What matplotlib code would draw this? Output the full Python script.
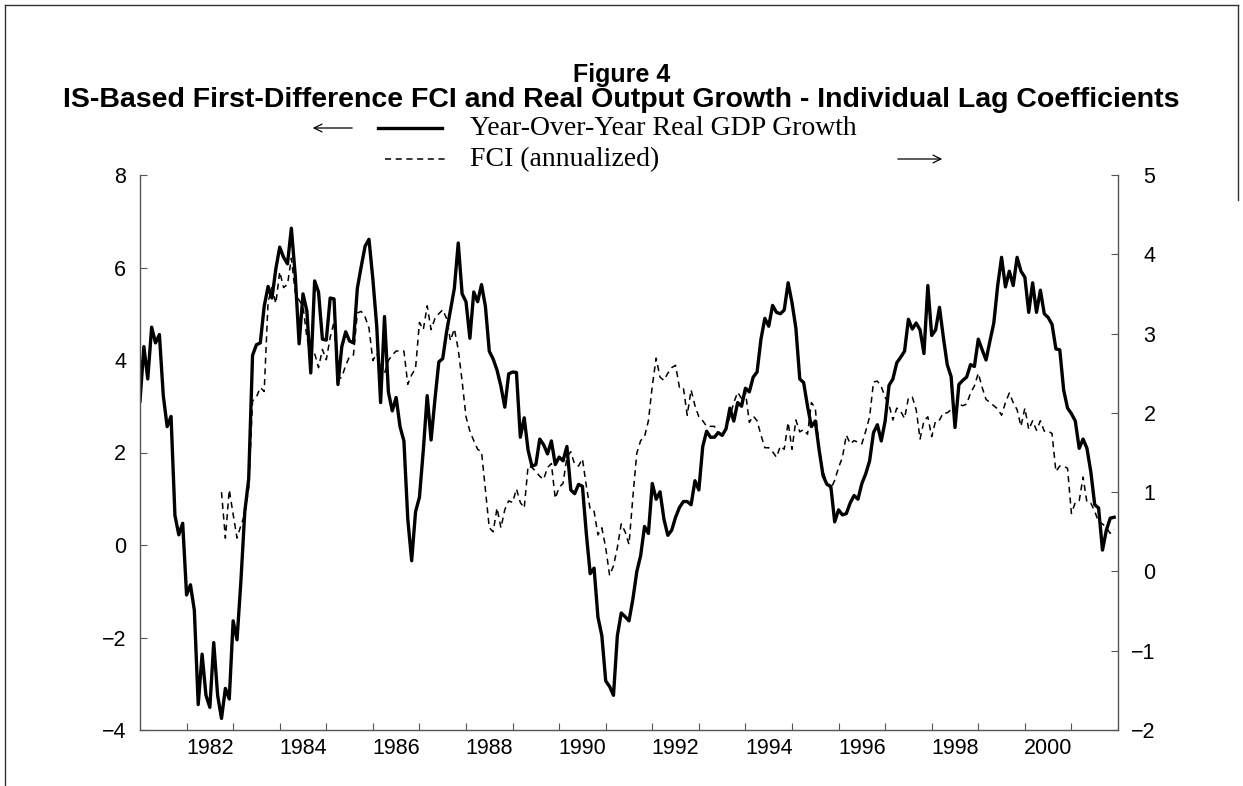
import numpy as np
import matplotlib.pyplot as plt
from matplotlib.lines import Line2D
from matplotlib.patches import FancyArrowPatch

# year-over-year real GDP growth, monthly from Jan 1981 (left axis)
gdp = [
    3.11, 4.29, 3.59, 4.71, 4.37, 4.55, 3.23, 2.56, 2.78, 0.64, 0.22, 0.47,
    -1.08, -0.86, -1.41, -3.45, -2.36, -3.25, -3.51, -2.11, -3.25, -3.75, -3.10, -3.33,
    -1.64, -2.05, -0.78, 0.72, 1.42, 4.10, 4.33, 4.37, 5.16, 5.59, 5.34, 5.97,
    6.44, 6.22, 6.08, 6.85, 5.83, 4.35, 5.43, 5.06, 3.72, 5.71, 5.47, 4.45,
    4.43, 5.34, 5.32, 3.47, 4.29, 4.61, 4.41, 4.37, 5.55, 6.02, 6.46, 6.61,
    5.75, 4.73, 3.08, 4.94, 3.31, 2.90, 3.19, 2.56, 2.25, 0.56, -0.34, 0.72,
    1.03, 2.05, 3.23, 2.27, 3.15, 3.96, 4.03, 4.61, 5.08, 5.55, 6.53, 5.43,
    5.26, 4.47, 5.47, 5.26, 5.63, 5.16, 4.19, 4.02, 3.78, 3.43, 2.98, 3.70,
    3.74, 3.73, 2.33, 2.75, 2.05, 1.70, 1.74, 2.29, 2.17, 1.97, 2.25, 1.74,
    1.90, 1.82, 2.13, 1.19, 1.11, 1.31, 1.27, 0.25, -0.62, -0.50, -1.56, -1.96,
    -2.94, -3.06, -3.25, -1.96, -1.47, -1.55, -1.64, -1.17, -0.58, -0.23, 0.40, 0.25,
    1.33, 0.99, 1.15, 0.56, 0.21, 0.32, 0.60, 0.81, 0.94, 0.94, 0.87, 1.39,
    1.19, 2.13, 2.46, 2.33, 2.33, 2.43, 2.37, 2.51, 2.96, 2.68, 3.08, 3.00,
    3.39, 3.31, 3.63, 3.74, 4.45, 4.90, 4.73, 5.18, 5.03, 5.00, 5.08, 5.67,
    5.24, 4.69, 3.59, 3.51, 3.00, 2.56, 2.68, 2.05, 1.50, 1.31, 1.27, 0.50,
    0.76, 0.65, 0.68, 0.91, 1.07, 0.99, 1.33, 1.54, 1.82, 2.43, 2.60, 2.25,
    2.68, 3.45, 3.59, 3.94, 4.06, 4.19, 4.88, 4.67, 4.80, 4.65, 4.14, 5.61,
    4.53, 4.65, 5.14, 4.49, 3.90, 3.64, 2.54, 3.47, 3.56, 3.63, 3.90, 3.86,
    4.45, 4.22, 4.00, 4.41, 4.80, 5.61, 6.22, 5.58, 5.92, 5.61, 6.22, 5.92,
    5.79, 5.03, 5.67, 5.03, 5.51, 5.00, 4.92, 4.77, 4.24, 4.22, 3.35, 2.96,
    2.84, 2.68, 2.09, 2.29, 2.09, 1.58, 0.87, 0.80, -0.11, 0.32, 0.58, 0.60,
]
gdp_start = 1981.0

# FCI (annualized), monthly from Oct 1982 (right axis)
fci = [
    1.00, 0.42, 1.03,
    0.72, 0.42, 0.58, 0.72, 1.05, 2.15, 2.20, 2.32, 2.27, 3.40, 3.58, 3.38,
    3.78, 3.58, 3.62, 3.95, 3.52, 3.42, 3.35, 2.95, 2.72, 2.75, 2.57, 2.80,
    2.67, 2.95, 3.15, 2.42, 2.45, 2.60, 2.71, 2.73, 3.26, 3.28, 3.21, 3.07,
    2.66, 2.75, 2.62, 2.50, 2.66, 2.73, 2.78, 2.78, 2.78, 2.36, 2.48, 2.56,
    3.14, 3.05, 3.35, 3.05, 3.19, 3.25, 3.30, 3.19, 2.91, 3.06, 2.80, 2.40,
    1.95, 1.77, 1.65, 1.54, 1.51, 1.03, 0.55, 0.50, 0.80, 0.55, 0.78, 0.89,
    0.87, 1.04, 0.87, 0.80, 1.33, 1.31, 1.26, 1.20, 1.16, 1.31, 1.36, 0.92,
    1.06, 1.11, 1.44, 1.51, 1.35, 1.33, 1.42, 1.08, 0.78, 0.76, 0.46, 0.55,
    0.30, -0.05, 0.07, 0.30, 0.60, 0.50, 0.34, 0.94, 1.49, 1.65, 1.70, 1.90,
    2.34, 2.69, 2.45, 2.41, 2.50, 2.57, 2.60, 2.32, 2.32, 1.97, 2.29, 2.09,
    1.95, 1.90, 1.83, 1.83, 1.83, 1.74, 1.72, 1.81, 1.95, 2.13, 2.26, 2.18,
    2.27, 1.88, 1.96, 1.90, 1.72, 1.56, 1.56, 1.51, 1.44, 1.58, 1.54, 1.88,
    1.54, 1.91, 1.76, 1.79, 1.73, 2.13, 2.06, 1.54, 1.26, 1.11, 1.04, 1.15,
    1.31, 1.44, 1.72, 1.61, 1.65, 1.63, 1.61, 1.77, 1.95, 2.39, 2.40, 2.33,
    2.20, 2.10, 1.91, 2.06, 2.02, 1.93, 2.19, 2.20, 2.04, 1.67, 1.90, 1.95,
    1.70, 1.90, 1.91, 2.00, 2.00, 2.04, 2.02, 2.11, 2.09, 2.11, 2.25, 2.34,
    2.50, 2.32, 2.17, 2.13, 2.09, 2.05, 1.97, 2.13, 2.25, 2.13, 2.04, 1.83,
    2.06, 1.79, 1.90, 1.78, 1.90, 1.77, 1.77, 1.74, 1.26, 1.33, 1.33, 1.30,
    0.73, 0.87, 0.89, 1.19, 0.87, 0.86, 0.76, 0.62, 0.60, 0.55, 0.48, 0.53,
]
fci_start = 1982.75

year_labels = [str(y) for y in range(1982, 2001, 2)]
left_ticks = [-4, -2, 0, 2, 4, 6, 8]
right_ticks = [-2, -1, 0, 1, 2, 3, 4, 5]

W, H = 1243, 786
def fx(px):
    return px / W
def fy(py):
    return 1 - py / H

fig = plt.figure(figsize=(12.43, 7.86), dpi=100)
ax = fig.add_axes([fx(140), fy(730), fx(1118) - fx(140), fy(175) - fy(730)])
ax2 = ax.twinx()

gdp_t = gdp_start + np.arange(len(gdp)) / 12
fci_t = fci_start + np.arange(len(fci)) / 12

ax.plot(gdp_t, gdp, color='black', lw=2.4)
ax2.plot(fci_t, fci, color='black', lw=1.1, linestyle=(0, (4, 3)))
ax.set_zorder(ax2.get_zorder() + 1)
ax.patch.set_visible(False)

ax.set_xlim(1981, 2002)
ax.set_ylim(-4, 8)
ax2.set_ylim(-2, 5)

spine_col = '#555555'
for a in (ax, ax2):
    a.spines['top'].set_visible(False)
    for s in a.spines.values():
        s.set_color(spine_col)
        s.set_linewidth(1.0)
ax.spines['right'].set_visible(False)
ax2.spines['left'].set_visible(False)
ax2.spines['bottom'].set_visible(False)

tick_font = dict(family='Liberation Sans', size=15.5)
ax.set_xticks(np.arange(1982, 2002))
ax.set_xticklabels([])
ax.set_xticks([int(y) + 0.5 for y in year_labels], minor=True)
ax.set_xticklabels(year_labels, minor=True, fontdict=tick_font)
ax.tick_params(axis='x', which='major', direction='in', length=5, color=spine_col)
ax.tick_params(axis='x', which='minor', length=0, pad=6)

ax.set_yticks(left_ticks)
ax.set_yticklabels([str(v).replace('-', '\u2212') for v in left_ticks], fontdict=tick_font)
ax.tick_params(axis='y', direction='in', length=5, pad=10, color=spine_col)

ax2.set_yticks(right_ticks)
ax2.set_yticklabels([str(v).replace('-', '\u2212') for v in right_ticks], fontdict=tick_font)
ax2.tick_params(axis='y', direction='in', length=5, pad=27, color=spine_col)
for lab in ax2.get_yticklabels():
    lab.set_horizontalalignment('right')

# titles
fig.text(0.5, fy(75), 'Figure 4', ha='center', va='center',
         family='Liberation Sans', fontweight='bold', fontsize=18)
fig.text(0.5, fy(100), 'IS-Based First-Difference FCI and Real Output Growth - Individual Lag Coefficients',
         ha='center', va='center', family='Liberation Sans', fontweight='bold', fontsize=20.5)

# legend
leg_font = dict(family='Liberation Serif', fontsize=20)
fig.text(fx(470), fy(135), 'Year-Over-Year Real GDP Growth', ha='left', va='baseline', **leg_font)
fig.text(fx(470), fy(166), 'FCI (annualized)', ha='left', va='baseline', **leg_font)
fig.add_artist(Line2D([fx(378), fx(442)], [fy(128), fy(128)], color='black', lw=2.4))
fig.add_artist(Line2D([fx(385), fx(445)], [fy(159), fy(159)], color='black', lw=1.1,
                      linestyle=(0, (4, 3))))
fig.add_artist(FancyArrowPatch((fx(355), fy(128)), (fx(310), fy(128)), transform=fig.transFigure,
                               arrowstyle='->', mutation_scale=14, lw=0.9, color='black'))
fig.add_artist(FancyArrowPatch((fx(895), fy(159)), (fx(945), fy(159)), transform=fig.transFigure,
                               arrowstyle='->', mutation_scale=14, lw=0.9, color='black'))

# page frame
fig.add_artist(Line2D([fx(5), fx(1238)], [fy(5), fy(5)], color='#333333', lw=1.0))
fig.add_artist(Line2D([fx(5), fx(5)], [fy(5), fy(786)], color='#333333', lw=1.0))
fig.add_artist(Line2D([fx(1238), fx(1238)], [fy(5), fy(200)], color='#333333', lw=1.0))

fig.savefig('out.png', dpi=100)
